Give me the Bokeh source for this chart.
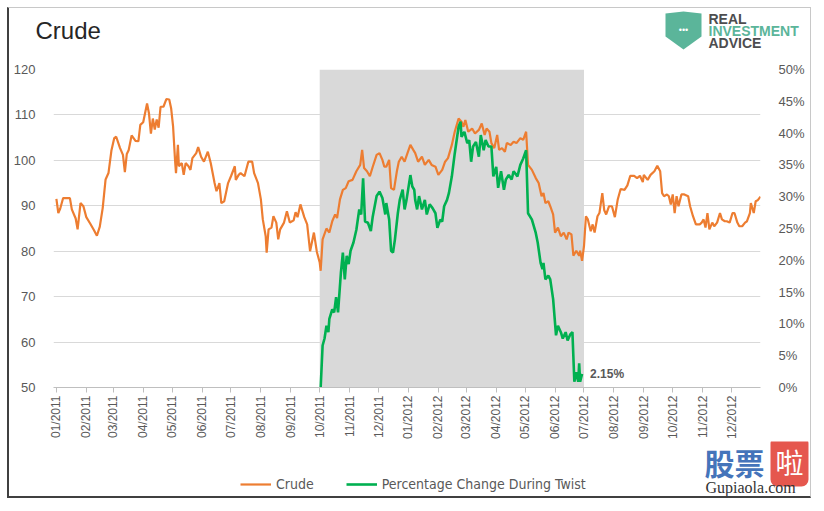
import math
import pandas as pd
from bokeh.plotting import figure
from bokeh.layouts import column
from bokeh.models import (ColumnDataSource, Range1d, LinearAxis, DatetimeTickFormatter, MonthsTicker,
                          SingleIntervalTicker, PrintfTickFormatter, BoxAnnotation,
                          Label, Legend, LegendItem)
from bokeh.embed import file_html
from bokeh.resources import INLINE

# ---------------- data ----------------
crude_dates = [
    "2011-01-01", "2011-01-03", "2011-01-05", "2011-01-08", "2011-01-15", "2011-01-17", "2011-01-21", "2011-01-23",
    "2011-01-26", "2011-01-29", "2011-02-01", "2011-02-05", "2011-02-09", "2011-02-12", "2011-02-15", "2011-02-18",
    "2011-02-21", "2011-02-24", "2011-02-27", "2011-03-02", "2011-03-04", "2011-03-08", "2011-03-11", "2011-03-13",
    "2011-03-15", "2011-03-17", "2011-03-20", "2011-03-24", "2011-03-27", "2011-03-29", "2011-04-01", "2011-04-05",
    "2011-04-07", "2011-04-09", "2011-04-11", "2011-04-13", "2011-04-15", "2011-04-17", "2011-04-19", "2011-04-22",
    "2011-04-25", "2011-04-28", "2011-04-30", "2011-05-02", "2011-05-04", "2011-05-05", "2011-05-07", "2011-05-08",
    "2011-05-11", "2011-05-13", "2011-05-15", "2011-05-18", "2011-05-20", "2011-05-22", "2011-05-26", "2011-05-28",
    "2011-05-31", "2011-06-03", "2011-06-07", "2011-06-10", "2011-06-12", "2011-06-14", "2011-06-16", "2011-06-19",
    "2011-06-21", "2011-06-24", "2011-06-28", "2011-07-01", "2011-07-05", "2011-07-06", "2011-07-09", "2011-07-11",
    "2011-07-15", "2011-07-19", "2011-07-23", "2011-07-25", "2011-07-29", "2011-08-01", "2011-08-03", "2011-08-06",
    "2011-08-07", "2011-08-09", "2011-08-12", "2011-08-14", "2011-08-17", "2011-08-19", "2011-08-21", "2011-08-25",
    "2011-08-28", "2011-08-31", "2011-09-04", "2011-09-06", "2011-09-08", "2011-09-11", "2011-09-15", "2011-09-18",
    "2011-09-21", "2011-09-25", "2011-09-28", "2011-10-01", "2011-10-02", "2011-10-04", "2011-10-08", "2011-10-11",
    "2011-10-14", "2011-10-17", "2011-10-19", "2011-10-22", "2011-10-25", "2011-10-28", "2011-10-31", "2011-11-04",
    "2011-11-08", "2011-11-12", "2011-11-14", "2011-11-16", "2011-11-19", "2011-11-22", "2011-11-25", "2011-11-29",
    "2011-12-02", "2011-12-05", "2011-12-07", "2011-12-09", "2011-12-12", "2011-12-14", "2011-12-17", "2011-12-20",
    "2011-12-22", "2011-12-25", "2011-12-28", "2011-12-31",
    "2012-01-03", "2012-01-06", "2012-01-08", "2012-01-11", "2012-01-15", "2012-01-18", "2012-01-22", "2012-01-25",
    "2012-01-29", "2012-02-01", "2012-02-05", "2012-02-08", "2012-02-11", "2012-02-15", "2012-02-18", "2012-02-22",
    "2012-02-25", "2012-02-27", "2012-02-29", "2012-03-03", "2012-03-07", "2012-03-10", "2012-03-14", "2012-03-17",
    "2012-03-20", "2012-03-22", "2012-03-25", "2012-03-27", "2012-03-30", "2012-04-02", "2012-04-04", "2012-04-07",
    "2012-04-10", "2012-04-12", "2012-04-16", "2012-04-19", "2012-04-22", "2012-04-26", "2012-04-29", "2012-05-02",
    "2012-05-04", "2012-05-08", "2012-05-12", "2012-05-15", "2012-05-18", "2012-05-20", "2012-05-22", "2012-05-25",
    "2012-05-27", "2012-05-30", "2012-06-01", "2012-06-04", "2012-06-07", "2012-06-10", "2012-06-13", "2012-06-15",
    "2012-06-18", "2012-06-20", "2012-06-23", "2012-06-26", "2012-06-27", "2012-06-29", "2012-07-01", "2012-07-03",
    "2012-07-05", "2012-07-08", "2012-07-10", "2012-07-12", "2012-07-15", "2012-07-17", "2012-07-20", "2012-07-22",
    "2012-07-24", "2012-07-27", "2012-07-30", "2012-08-02", "2012-08-05", "2012-08-08", "2012-08-12", "2012-08-15",
    "2012-08-18", "2012-08-22", "2012-08-25", "2012-08-28", "2012-08-31", "2012-09-01", "2012-09-05", "2012-09-08",
    "2012-09-12", "2012-09-15", "2012-09-18", "2012-09-20", "2012-09-22", "2012-09-25", "2012-09-27", "2012-09-29",
    "2012-10-01", "2012-10-03", "2012-10-05", "2012-10-07", "2012-10-10", "2012-10-13", "2012-10-17", "2012-10-19",
    "2012-10-22", "2012-10-25", "2012-10-29", "2012-10-31", "2012-11-02", "2012-11-04", "2012-11-06", "2012-11-08",
    "2012-11-11", "2012-11-13", "2012-11-16", "2012-11-19", "2012-11-21", "2012-11-24", "2012-11-26", "2012-11-29",
    "2012-12-02", "2012-12-04", "2012-12-07", "2012-12-09", "2012-12-12", "2012-12-15", "2012-12-17", "2012-12-20",
    "2012-12-21", "2012-12-24", "2012-12-26", "2012-12-28", "2012-12-31",
]
crude_values = [
    91.5, 88.4, 89.4, 91.7, 91.7, 89.2, 87.2, 84.8,
    90.6, 89.9, 87.5, 86.1, 84.6, 83.4, 85.4, 89.5,
    95.8, 97.2, 102.1, 104.9, 105.2, 102.7, 101.2, 97.4,
    101.4, 102.3, 105.5, 104.3, 104.2, 107.8, 108.4, 112.5,
    110.3, 105.9, 109.2, 106.8, 109.0, 107.2, 111.8, 111.8,
    113.5, 113.4, 111.4, 107.4, 100.1, 97.2, 103.4, 98.7,
    99.4, 96.8, 99.4, 98.7, 97.9, 100.5, 101.6, 102.9,
    100.8, 99.7, 101.9, 99.4, 97.2, 95.0, 93.2, 95.0,
    90.6, 91.0, 95.0, 96.5, 98.7, 95.7, 96.8, 97.2,
    96.5, 99.7, 99.7, 97.2, 95.0, 91.4, 87.0, 83.3,
    79.7, 84.8, 85.2, 87.7, 86.3, 82.6, 84.8, 86.3,
    88.8, 86.3, 86.8, 88.6, 87.5, 90.3, 87.5, 85.9,
    80.0, 84.1, 79.9, 77.5, 75.7, 82.6, 85.0, 84.1,
    86.6, 88.1, 87.3, 91.4, 93.5, 93.9, 95.4, 95.7,
    97.6, 99.0, 102.3, 98.3, 97.6, 96.5, 98.6, 101.2,
    101.6, 100.1, 98.6, 98.6, 100.1, 93.9, 93.5, 97.6,
    99.7, 100.8, 99.7, 101.6,
    103.4, 102.3, 101.6, 99.7, 100.8, 99.0, 100.1, 99.0,
    98.6, 96.8, 97.9, 99.7, 100.5, 103.4, 106.3, 109.2,
    108.5, 107.4, 108.9, 106.3, 107.0, 105.9, 106.7, 108.1,
    105.6, 107.0, 106.3, 103.8, 102.7, 105.6, 102.3, 102.7,
    101.9, 103.8, 103.4, 104.1, 103.8, 104.9, 104.5, 106.3,
    99.0, 97.9, 96.1, 95.0, 92.1, 92.8, 90.6, 91.0,
    89.9, 88.1, 84.1, 85.2, 83.3, 84.1, 82.6, 84.1,
    83.7, 79.0, 80.1, 79.0, 80.1, 77.9, 81.1, 87.7,
    87.0, 84.4, 85.9, 84.1, 87.7, 88.4, 92.8, 89.0,
    88.1, 89.9, 89.9, 87.5, 91.4, 93.7, 93.5, 94.5,
    96.6, 96.6, 96.1, 96.6, 95.2, 96.8, 95.7, 96.8,
    97.6, 98.8, 97.6, 92.8, 92.1, 92.5, 92.1, 90.3,
    92.5, 88.4, 92.1, 89.9, 92.5, 92.5, 92.1, 89.9,
    87.7, 85.9, 85.9, 86.3, 87.0, 85.2, 88.4, 84.8,
    86.3, 85.5, 86.3, 88.4, 87.0, 86.6, 86.6, 86.3,
    88.4, 88.4, 86.3, 85.5, 85.5, 86.3, 86.6, 88.4,
    90.6, 88.4, 91.0, 91.2, 92.0,
]

twist_dates = [
    "2011-10-02", "2011-10-04", "2011-10-06", "2011-10-08", "2011-10-10", "2011-10-11", "2011-10-14", "2011-10-16",
    "2011-10-18", "2011-10-20", "2011-10-23", "2011-10-25", "2011-10-27", "2011-10-29", "2011-10-31", "2011-11-02",
    "2011-11-05", "2011-11-08", "2011-11-11", "2011-11-13", "2011-11-15", "2011-11-17", "2011-11-20", "2011-11-23",
    "2011-11-25", "2011-11-29", "2011-12-02", "2011-12-05", "2011-12-08", "2011-12-09", "2011-12-12", "2011-12-14",
    "2011-12-16", "2011-12-18", "2011-12-21", "2011-12-23", "2011-12-26", "2011-12-28", "2011-12-30",
    "2012-01-03", "2012-01-05", "2012-01-07", "2012-01-08", "2012-01-10", "2012-01-12", "2012-01-15", "2012-01-18",
    "2012-01-20", "2012-01-23", "2012-01-26", "2012-01-29", "2012-01-31", "2012-02-03", "2012-02-05", "2012-02-07",
    "2012-02-10", "2012-02-12", "2012-02-15", "2012-02-18", "2012-02-22", "2012-02-24", "2012-02-25", "2012-02-28",
    "2012-03-02", "2012-03-04", "2012-03-06", "2012-03-08", "2012-03-11", "2012-03-14", "2012-03-16", "2012-03-19",
    "2012-03-21", "2012-03-24", "2012-03-27", "2012-03-29", "2012-04-01", "2012-04-03", "2012-04-06", "2012-04-09",
    "2012-04-11", "2012-04-14", "2012-04-17", "2012-04-19", "2012-04-23", "2012-04-26", "2012-04-29", "2012-05-02",
    "2012-05-04", "2012-05-08", "2012-05-12", "2012-05-14", "2012-05-17", "2012-05-19", "2012-05-20", "2012-05-22",
    "2012-05-25", "2012-05-27", "2012-05-30", "2012-06-02", "2012-06-04", "2012-06-07", "2012-06-09", "2012-06-12",
    "2012-06-14", "2012-06-17", "2012-06-19", "2012-06-21", "2012-06-23", "2012-06-25", "2012-06-26", "2012-06-27",
    "2012-06-29",
]
twist_pct = [
    0.0, 6.6, 7.7, 9.7, 8.7, 10.8, 12.3, 11.8,
    14.2, 11.8, 18.1, 21.2, 17.0, 20.7, 19.4, 21.5,
    22.8, 24.8, 28.0, 27.2, 32.9, 26.1, 25.9, 24.6,
    26.9, 30.1, 30.8, 29.8, 27.2, 29.0, 26.4, 21.5,
    21.2, 23.3, 27.4, 29.5, 31.1, 28.0, 29.5,
    33.4, 31.6, 31.1, 29.5, 28.0, 30.1, 28.0, 29.5,
    27.2, 28.8, 28.2, 27.4, 25.1, 26.4, 26.1, 28.5,
    29.5, 30.6, 33.2, 36.8, 41.0, 41.8, 39.4, 40.2,
    38.4, 38.9, 35.5, 37.9, 38.6, 36.3, 39.7, 37.3,
    38.9, 37.9, 37.9, 33.2, 34.7, 31.4, 34.0, 31.1,
    32.7, 33.4, 32.7, 34.0, 33.2, 35.0, 36.0, 37.3,
    27.4, 26.4, 24.3, 22.8, 19.6, 18.6, 19.6, 17.0,
    17.6, 17.0, 13.9, 8.2, 9.7, 8.7, 7.7, 8.7,
    7.4, 8.4, 8.7, 0.9, 2.4, 0.9, 3.8, 0.9,
    2.15,
]

twist_start = "2011-10-01"
twist_end = "2012-07-01"
x_start = "2010-12-29"
x_end = "2012-12-31"
price_min, price_max, price_step = 50, 120, 10
pct_min, pct_max, pct_step = 0, 50, 5

series_names = ["Crude", "Percentage Change During Twist"]
title_text = "Crude"
logo_lines = ["REAL", "INVESTMENT", "ADVICE"]

ORANGE = "#ED7D31"
GREEN = "#00B050"
GRID = "#D9D9D9"
LABEL = "#595959"
TEAL = "#5BB59A"
FONT = "Liberation Sans"
W = 801


def ms(d):
    return pd.Timestamp(d).timestamp() * 1000.0


def blank(height):
    f = figure(width=W, height=height, x_range=Range1d(0, W), y_range=Range1d(height, 0),
               x_axis_location=None, y_axis_location=None, output_backend="svg",
               toolbar_location=None, min_border=0, frame_align=False)
    f.outline_line_color = None
    f.grid.visible = False
    return f


# ---------------- header: title + logo ----------------
head = blank(51)
head.add_layout(Label(x=26, y=22, text=title_text, text_font=FONT, text_font_size="24px",
                      text_color="#262626", text_baseline="middle"))
head.patch([656, 674, 692, 692, 674, 656], [5, 3, 5, 28, 41, 28], fill_color=TEAL, line_color=None)
head.add_layout(Label(x=674, y=21, text="•••", text_color="white", text_font_size="9px",
                      text_align="center", text_baseline="middle"))
for txt, yy, col in zip(logo_lines, [10, 22, 34], ["#4D4D4F", TEAL, "#4D4D4F"]):
    head.add_layout(Label(x=699, y=yy, text=txt, text_font=FONT, text_font_style="bold",
                          text_font_size="14px", text_color=col, text_baseline="middle"))

# ---------------- main chart ----------------
p = figure(width=W, height=382, x_axis_type="datetime",
           x_range=Range1d(ms(x_start), ms(x_end)),
           y_range=Range1d(price_min, price_max),
           output_backend="svg", toolbar_location=None, frame_align=False,
           min_border_left=44, min_border_right=50, min_border_top=10, min_border_bottom=52)
p.outline_line_color = None
p.extra_y_ranges = {"pct": Range1d(pct_min, pct_max)}

p.add_layout(BoxAnnotation(left=ms(twist_start), right=ms(twist_end), fill_color="#D9D9D9",
                           fill_alpha=1.0, line_color=None, level="underlay"))

src_c = ColumnDataSource(dict(x=pd.to_datetime(crude_dates), y=crude_values))
src_t = ColumnDataSource(dict(x=pd.to_datetime(twist_dates), y=twist_pct))
r1 = p.line("x", "y", source=src_c, line_color=ORANGE, line_width=2.2)
r2 = p.line("x", "y", source=src_t, line_color=GREEN, line_width=2.6, y_range_name="pct")

p.xgrid.grid_line_color = None
p.ygrid.grid_line_color = GRID

ya = p.yaxis[0]
ya.ticker = SingleIntervalTicker(interval=price_step, num_minor_ticks=0)
ra = LinearAxis(y_range_name="pct", ticker=SingleIntervalTicker(interval=pct_step, num_minor_ticks=0),
                formatter=PrintfTickFormatter(format="%d%%"))
p.add_layout(ra, "right")
for ax in (ya, ra):
    ax.axis_line_color = None
    ax.major_tick_line_color = None
    ax.minor_tick_line_color = None
    ax.major_label_standoff = 12
    ax.major_label_text_font = FONT
    ax.major_label_text_font_size = "13px"
    ax.major_label_text_color = LABEL

xa = p.xaxis[0]
xa.ticker = MonthsTicker(months=list(range(1, 13)))
fmt = "%m/%Y"
xa.formatter = DatetimeTickFormatter(months=fmt, days=fmt, years=fmt, hours=fmt, hourmin=fmt,
                                     minutes=fmt, minsec=fmt, seconds=fmt, milliseconds=fmt,
                                     microseconds=fmt)
xa.major_label_orientation = math.pi / 2
xa.axis_line_color = "#BFBFBF"
xa.major_tick_line_color = "#BFBFBF"
xa.major_tick_out = 5
xa.major_tick_in = 0
xa.minor_tick_line_color = None
xa.major_label_standoff = 3
xa.major_label_text_font = FONT
xa.major_label_text_font_size = "12px"
xa.major_label_text_color = LABEL

p.add_layout(Label(x=ms(twist_dates[-1]), y=twist_pct[-1], y_range_name="pct", x_offset=8,
                   text=f"{twist_pct[-1]:.2f}%", text_font=FONT, text_font_style="bold",
                   text_font_size="12px", text_color=LABEL, text_baseline="middle"))

# ---------------- footer: legend + watermark ----------------
foot = blank(55)
nan = float("nan")
k1 = foot.line(x=[nan], y=[nan], line_color=ORANGE, line_width=2.2)
k2 = foot.line(x=[nan], y=[nan], line_color=GREEN, line_width=2.6)
legend = Legend(items=[LegendItem(label=series_names[0], renderers=[k1]),
                       LegendItem(label=series_names[1], renderers=[k2])],
                location=(231, 4), orientation="horizontal",
                glyph_width=31, glyph_height=16, label_height=16, label_standoff=5, spacing=32,
                padding=0, margin=0, border_line_color=None, background_fill_alpha=0,
                label_text_font="DejaVu Sans Condensed", label_text_font_size="14px",
                label_text_color=LABEL)
foot.add_layout(legend)
foot.add_layout(Label(x=695, y=20, text="股票", text_font="Noto Sans CJK SC", text_font_style="bold",
                      text_font_size="30px", text_color="#4574BA", text_baseline="middle"))
foot.add_layout(Label(x=780, y=20, text="啦", text_font="Noto Sans CJK SC", text_font_size="28px",
                      text_color="white", text_align="center", text_baseline="middle",
                      background_fill_color="#E5574E", background_fill_alpha=1,
                      padding=5, border_radius=7))
foot.add_layout(Label(x=696, y=46, text="Gupiaola.com", text_font="Liberation Serif",
                      text_font_size="16px", text_color="#333333", text_baseline="middle"))

layout = column(head, p, foot, spacing=0, margin=(7, 0, 0, 7),
                styles={"border-top": "1px solid #C8C8C8", "border-right": "1px solid #C8C8C8",
                        "border-left": "2px solid #404040", "border-bottom": "2px solid #404040"})

open("out.html", "w").write(file_html(layout, INLINE))
